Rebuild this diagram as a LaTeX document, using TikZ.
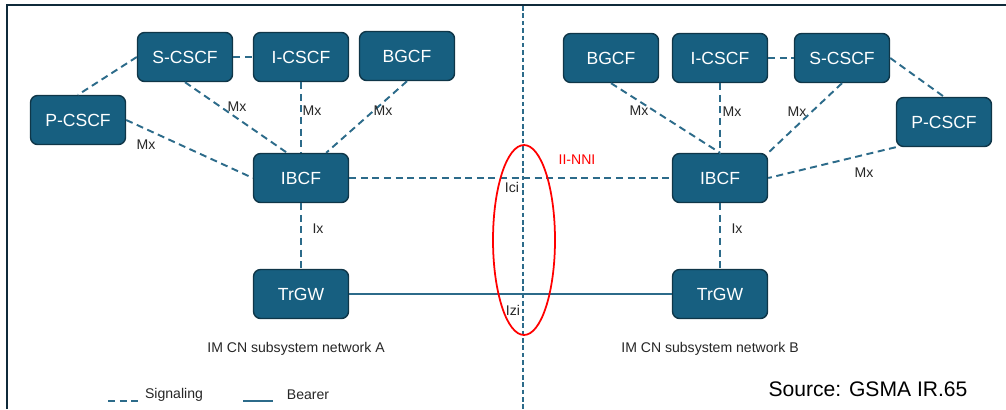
\documentclass[tikz,border=0pt]{standalone}
\usepackage{fontspec}
\setmainfont{Liberation Sans}
\usetikzlibrary{shapes.geometric}

\definecolor{imsfill}{HTML}{175F80}
\definecolor{imsedge}{HTML}{0F3648}
\definecolor{imsline}{HTML}{2C6B8A}
\definecolor{framecol}{HTML}{0F2A3A}

\begin{document}
\begin{tikzpicture}[x=0.02cm, y=-0.02cm,
    ims/.style={draw=imsedge, fill=imsfill, line width=0.8pt, rounded corners=4pt,
        minimum width=1.9cm, minimum height=0.98cm, text=white, font=\fontsize{10}{12}\selectfont},
    sig/.style={draw=imsline, line width=1.1pt, dash pattern=on 4pt off 2.6pt},
    bear/.style={draw=imsline, line width=1.1pt},
    sep/.style={draw=imsline, line width=0.8pt, dash pattern=on 2.6pt off 1.6pt},
    lbl/.style={font=\fontsize{8}{10}\selectfont, text=black!85, inner sep=0pt}]
    \useasboundingbox (0,0) rectangle (1006,409);

    % frame and border between the two networks
    \draw[framecol, line width=1.6pt] (7,409) -- (7,5) -- (1006,5);
    \coordinate (septop) at (523,6);
    \coordinate (sepbot) at (523,409);
    \draw[sep] (septop) -- (sepbot);

    % network A
    \node[ims] at (185,57) (scscfA) {S-CSCF};
    \node[ims] at (301,57) (icscfA) {I-CSCF};
    \node[ims] at (407,56) (bgcfA) {BGCF};
    \node[ims] at (78,120) (pcscfA) {P-CSCF};
    \node[ims] at (301,178) (ibcfA) {IBCF};
    \node[ims] at (301,294) (trgwA) {TrGW};

    % network B
    \node[ims] at (611,58) (bgcfB) {BGCF};
    \node[ims] at (720,58) (icscfB) {I-CSCF};
    \node[ims] at (842,58) (scscfB) {S-CSCF};
    \node[ims] at (944,122) (pcscfB) {P-CSCF};
    \node[ims] at (720,178) (ibcfB) {IBCF};
    \node[ims] at (720,294) (trgwB) {TrGW};

    \draw[sig] (scscfA.west) -- (pcscfA.north);
    \draw[sig] (scscfA.east) -- (icscfA.west);
    \draw[sig] (scscfA.south) -- (ibcfA.119);
    \draw[sig] (icscfA.south) -- (ibcfA.north);
    \draw[sig] (bgcfA.south) -- (ibcfA.45);
    \draw[sig] (pcscfA.east) -- (ibcfA.west);
    \draw[sig] (ibcfA.south) -- (trgwA.north);

    \draw[sig] (icscfB.east) -- (scscfB.west);
    \draw[sig] (bgcfB.south) -- (ibcfB.north);
    \draw[sig] (icscfB.south) -- (ibcfB.north);
    \draw[sig] (scscfB.south) -- (ibcfB.north east);
    \draw[sig] (scscfB.east) -- (pcscfB.north);
    \draw[sig] (pcscfB.south west) -- (ibcfB.east);
    \draw[sig] (ibcfB.south) -- (trgwB.north);

    \draw[sig] (ibcfA.east) -- (ibcfB.west);
    \draw[bear] (trgwA.east) -- (trgwB.west);

    \node[ellipse, draw=red, line width=1pt, minimum width=1.24cm, minimum height=3.8cm,
        inner sep=0pt] at (524,240) (nni) {};

    % interface labels
    \node[lbl] at (237,107) (mx1) {Mx};
    \node[lbl] at (312,111) (mx2) {Mx};
    \node[lbl] at (383,111) (mx3) {Mx};
    \node[lbl] at (146,145) (mx4) {Mx};
    \node[lbl] at (639,111) (mx5) {Mx};
    \node[lbl] at (732,112) (mx6) {Mx};
    \node[lbl] at (797,112) (mx7) {Mx};
    \node[lbl] at (864,173) (mx8) {Mx};
    \node[lbl] at (318,229) (ixA) {Ix};
    \node[lbl] at (737,229) (ixB) {Ix};
    \node[lbl] at (512,187) (ici) {Ici};
    \node[lbl] at (513,310) (izi) {Izi};
    \node[lbl, text=red] at (577,160) (iinni) {II-NNI};

    \node[lbl] at (296,349) (netA) {IM CN subsystem network A};
    \node[lbl] at (710,349) (netB) {IM CN subsystem network B};

    % legend
    \coordinate (sigL) at (108,401);
    \coordinate (sigR) at (138,401);
    \coordinate (bearL) at (243,401);
    \coordinate (bearR) at (273,401);
    \draw[sig] (sigL) -- (sigR);
    \draw[bear] (bearL) -- (bearR);
    \node[lbl] at (174,395) (sigtxt) {Signaling};
    \node[lbl] at (308,395) (beartxt) {Bearer};

    \node[font=\fontsize{12}{14}\selectfont, inner sep=0pt] at (868,389) (src) {Source: GSMA IR.65};
\end{tikzpicture}
\end{document}
